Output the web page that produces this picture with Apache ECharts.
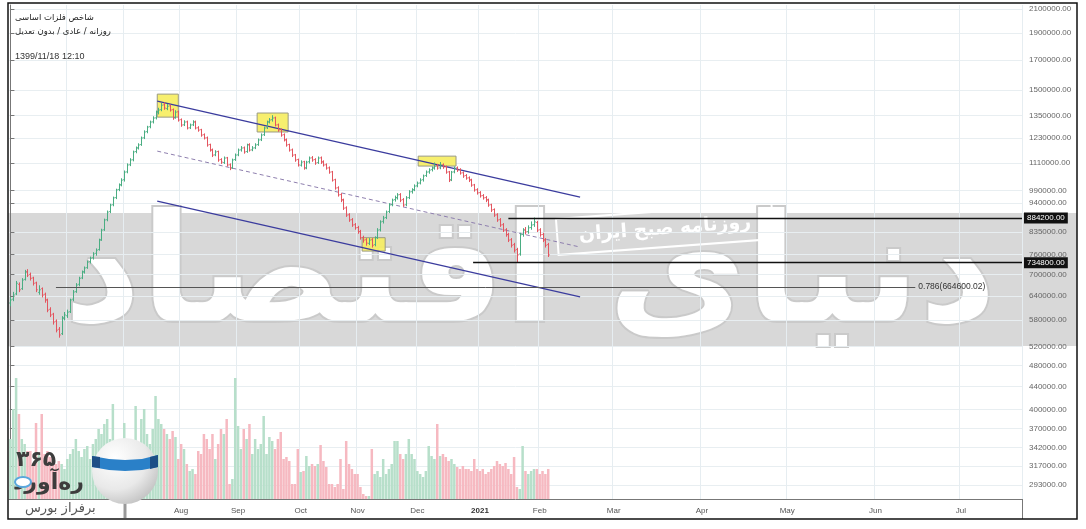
<!DOCTYPE html>
<html>
<head>
<meta charset="utf-8">
<script src="https://cdn.jsdelivr.net/npm/echarts@6/dist/echarts.min.js"></script>
<style>
html, body { margin: 0; padding: 0; background: #fff; }
#chart { width: 1086px; height: 529px; }
</style>
</head>
<body>
<div id="chart"></div>
<script>
// daily bars, prices in thousands: [open, close, low, high]
const bars = [
  [622,630,615,636],[632,643,628,650],[646,675,644,680],[672,657,652,676],[660,684,658,688],
  [686,707,684,712],[708,698,694,714],[700,689,684,704],[690,675,670,692],[676,657,652,678],
  [650,657,645,668],[660,643,638,662],[645,630,624,648],[630,604,600,632],[606,592,588,610],
  [594,575,570,596],[577,556,552,580],[558,545,540,562],[548,585,546,588],[584,592,580,598],
  [590,599,586,604],[600,630,598,632],[632,651,628,655],[652,670,650,674],[672,689,668,692],
  [690,707,688,710],[708,719,704,722],[720,737,718,740],[738,749,734,752],[750,762,746,766],
  [764,774,758,778],[776,807,774,810],[808,841,806,844],[842,877,840,880],[878,906,874,910],
  [908,933,904,936],[934,961,930,964],[962,993,958,996],[995,1013,990,1018],[1015,1034,1010,1040],
  [1036,1069,1030,1074],[1070,1101,1066,1106],[1102,1124,1098,1130],[1125,1162,1120,1166],[1164,1181,1158,1186],
  [1182,1196,1176,1202],[1198,1231,1194,1236],[1232,1262,1228,1268],[1264,1288,1258,1292],[1290,1315,1284,1320],
  [1316,1337,1310,1344],[1338,1370,1332,1376],[1372,1382,1360,1392],[1384,1410,1378,1420],[1412,1393,1386,1424],
  [1390,1404,1384,1414],[1406,1382,1376,1410],[1384,1337,1330,1388],[1340,1370,1336,1378],[1372,1326,1320,1376],
  [1328,1299,1292,1332],[1300,1315,1296,1322],[1316,1283,1278,1320],[1284,1299,1280,1304],[1300,1315,1296,1322],
  [1316,1283,1278,1320],[1284,1272,1266,1290],[1274,1246,1240,1276],[1248,1231,1226,1252],[1232,1196,1190,1236],
  [1198,1171,1166,1200],[1172,1147,1140,1176],[1148,1162,1144,1168],[1164,1124,1118,1166],[1126,1114,1108,1130],
  [1112,1133,1108,1138],[1134,1101,1096,1136],[1102,1087,1080,1106],[1088,1124,1086,1128],[1126,1147,1122,1152],
  [1148,1171,1144,1176],[1172,1181,1166,1188],[1182,1162,1156,1186],[1164,1196,1160,1200],[1198,1171,1166,1202],
  [1172,1181,1168,1188],[1182,1196,1178,1202],[1198,1221,1194,1226],[1222,1246,1218,1252],[1248,1283,1244,1288],
  [1284,1315,1280,1320],[1316,1326,1310,1334],[1328,1337,1320,1350],[1338,1299,1294,1342],[1300,1272,1266,1304],
  [1274,1246,1240,1278],[1248,1221,1216,1252],[1222,1196,1190,1226],[1198,1171,1166,1200],[1172,1147,1140,1176],
  [1148,1124,1118,1150],[1126,1101,1096,1128],[1100,1114,1096,1120],[1116,1087,1082,1118],[1088,1114,1084,1118],
  [1116,1133,1110,1138],[1134,1124,1118,1140],[1126,1110,1104,1130],[1112,1133,1108,1138],[1134,1114,1108,1138],
  [1116,1101,1096,1120],[1102,1087,1082,1106],[1088,1069,1064,1092],[1070,1034,1030,1072],[1036,1001,996,1038],
  [1002,973,968,1006],[974,952,946,978],[954,921,916,956],[922,895,890,926],[896,877,872,900],
  [878,859,854,882],[860,849,844,864],[850,835,830,854],[836,815,810,840],[816,807,800,820],
  [808,797,790,812],[796,807,792,812],[808,790,784,812],[792,815,788,818],[816,841,812,846],
  [842,870,838,874],[872,884,866,890],[886,906,882,910],[908,933,904,938],[934,952,930,956],
  [954,961,948,968],[962,973,956,978],[974,952,946,978],[954,933,928,958],[934,961,930,966],
  [962,985,958,990],[986,993,980,998],[994,1009,990,1014],[1010,1021,1006,1026],[1022,1034,1018,1040],
  [1036,1052,1030,1056],[1054,1069,1050,1074],[1070,1078,1064,1084],[1080,1087,1074,1092],[1088,1096,1082,1110],
  [1098,1087,1082,1104],[1088,1101,1084,1112],[1102,1092,1086,1106],[1094,1069,1064,1096],[1070,1034,1028,1072],
  [1036,1069,1032,1072],[1070,1087,1066,1092],[1088,1078,1072,1092],[1080,1065,1060,1084],[1066,1052,1046,1070],
  [1054,1043,1038,1058],[1044,1034,1028,1048],[1036,1013,1008,1038],[1014,993,988,1016],[994,981,976,998],
  [982,969,964,986],[970,961,956,974],[962,952,946,966],[954,933,928,956],[934,914,908,936],
  [916,895,890,918],[896,877,872,900],[878,859,854,882],[860,841,836,864],[842,825,820,846],
  [826,807,802,830],[808,790,784,812],[792,774,768,796],[776,759,737,780],[762,825,758,830],
  [826,841,820,846],[842,835,828,850],[836,849,830,856],[850,859,844,870],[860,870,854,884],
  [868,841,836,872],[842,825,820,846],[826,807,802,830],[808,790,784,812],[792,759,754,796]
];
const volume = [
  60,90,121,85,60,55,48,48,35,76, 45,85,45,48,42,40,35,38,35,30,
  40,45,50,60,48,42,50,53,40,55, 60,70,65,75,80,60,95,50,45,40,
  76,55,60,50,93,55,80,90,65,55, 70,103,80,75,70,65,60,68,62,40,
  55,50,35,28,30,25,48,45,65,60, 50,65,40,55,70,65,80,15,20,121,
  73,50,70,60,75,45,60,50,55,83, 45,62,58,50,60,67,40,42,38,15,
  15,50,27,28,43,33,35,33,35,54, 38,32,15,15,12,15,40,10,58,35,
  30,25,25,12,5,3,3,50,25,28, 22,40,25,30,35,58,58,45,40,45,
  60,45,40,28,25,22,28,53,43,40, 75,43,45,42,38,40,35,32,30,33,
  30,30,28,40,30,28,30,25,27,30, 33,38,35,33,36,30,25,42,12,10,
  53,28,25,28,30,30,25,28,25,30
];
const SLOTS = 356; // trading bars + empty future days on the time scale
const monthIdx = [20, 40, 60, 80, 102, 122, 143, 165, 186, 212, 243, 273, 304, 334];
const monthLbl = ['', '', 'Aug', 'Sep', 'Oct', 'Nov', 'Dec', '2021', 'Feb', 'Mar', 'Apr', 'May', 'Jun', 'Jul'];
const priceTicks = [2100000, 1900000, 1700000, 1500000, 1350000, 1230000, 1110000, 990000, 940000,
  835000, 760000, 700000, 640000, 580000, 520000, 480000, 440000, 400000, 370000, 342000, 317000, 293000];

// drawings: [barIndex, price]
const upperLine = [[51.6, 1434000], [200.2, 964000]];
const lowerLine = [[51.6, 948000], [200.2, 638000]];
const midLine = [[51.6, 1166000], [200.2, 784000]];
// highlight boxes: [fromIndex, toIndex, lowPrice, highPrice]
const boxes = [[51.6, 59.0, 1342000, 1476000], [86.7, 97.6, 1262000, 1365000],
  [143.3, 156.6, 1096000, 1142000], [123.6, 131.7, 771000, 815000]];
const resistance = { from: 175, price: 884200 };
const support = { from: 162.6, price: 734800 };
const fib = { from: 16, to: 318, price: 664600.02, text: '0.786(664600.02)' };

const lg = Math.log10;
const UP = '#4aad82', DOWN = '#e3555f', VOL_UP = '#b7dfca', VOL_DOWN = '#f6b9c1';
const tickSet = new Set(monthIdx);

const chart = echarts.init(document.getElementById('chart'));

function levelLine(lv) {
  return [{
    coord: [lv.from, lg(lv.price)],
    lineStyle: { color: '#111', width: 1.3, type: 'solid' },
    label: {
      show: true, position: 'end', distance: 2,
      formatter: lv.price.toFixed(2),
      color: '#fff', backgroundColor: '#111', padding: [2, 3, 1, 3], fontSize: 8, fontFamily: 'Liberation Sans'
    }
  }, { coord: [SLOTS - 0.5, lg(lv.price)] }];
}

const option = {
  animation: false,
  grid: { left: 9, right: 64, top: 5, bottom: 30 },
  xAxis: [{
    type: 'category',
    data: Array.from({ length: SLOTS }, (_, i) => i),
    boundaryGap: true,
    axisLine: { lineStyle: { color: '#777', width: 1 } },
    axisTick: { alignWithLabel: true, length: 3, interval: (i) => tickSet.has(i), lineStyle: { color: '#777' } },
    axisLabel: {
      interval: (i) => tickSet.has(i),
      formatter: (v, i) => {
        const t = monthLbl[monthIdx.indexOf(i)] || '';
        return t === '2021' ? '{b|2021}' : t;
      },
      color: '#555', fontSize: 8, fontFamily: 'Liberation Sans', margin: 8,
      rich: { b: { fontWeight: 'bold', fontSize: 8, color: '#333', fontFamily: 'Liberation Sans' } }
    },
    splitLine: { show: true, interval: (i) => tickSet.has(i), lineStyle: { color: '#e6edf1' } }
  }, {
    type: 'value', min: -0.5, max: SLOTS - 0.5, show: false
  }],
  yAxis: [{
    type: 'value',
    position: 'right',
    min: lg(276500),
    max: lg(2134000),
    axisLine: { show: true, lineStyle: { color: '#777' } },
    axisTick: { show: true, length: 4, customValues: priceTicks.map(lg), lineStyle: { color: '#777' } },
    axisLabel: {
      customValues: priceTicks.map(lg),
      formatter: (v) => Math.round(Math.pow(10, v)).toFixed(2),
      color: '#666', fontSize: 8, fontFamily: 'Liberation Sans', margin: 7
    },
    splitLine: { show: true, lineStyle: { color: '#e8eef1' } }
  }, {
    type: 'value', min: 0, max: 494, show: false
  }],
  series: [{
    type: 'bar',
    xAxisIndex: 0, yAxisIndex: 1,
    barWidth: '88%',
    silent: true,
    z: 1,
    data: volume.map((v, i) => ({ value: v, itemStyle: { color: bars[i][1] >= bars[i][0] ? VOL_UP : VOL_DOWN } }))
  }, {
    type: 'custom',
    xAxisIndex: 0, yAxisIndex: 0,
    silent: true,
    z: 4,
    data: bars.map((b, i) => [i, lg(b[0] * 1000), lg(b[1] * 1000), lg(b[2] * 1000), lg(b[3] * 1000)]),
    renderItem: (params, api) => {
      const i = api.value(0);
      const o = api.coord([i, api.value(1)]);
      const c = api.coord([i, api.value(2)]);
      const l = api.coord([i, api.value(3)]);
      const h = api.coord([i, api.value(4)]);
      const w = api.size([1, 0])[0] * 0.45;
      const x = Math.round(o[0]) + 0.5;
      const color = api.value(2) >= api.value(1) ? UP : DOWN;
      const st = { stroke: color, lineWidth: 1 };
      return {
        type: 'group',
        children: [
          { type: 'line', shape: { x1: x, y1: h[1] - 0.5, x2: x, y2: l[1] + 0.5 }, style: st },
          { type: 'line', shape: { x1: x - w, y1: o[1], x2: x, y2: o[1] }, style: st },
          { type: 'line', shape: { x1: x, y1: c[1], x2: x + w, y2: c[1] }, style: st }
        ]
      };
    }
  }, {
    type: 'line',
    xAxisIndex: 1, yAxisIndex: 0,
    silent: true, clip: false, z: 2,
    showSymbol: false, symbol: 'none',
    lineStyle: { color: '#3b3c9e', width: 1.3 },
    data: upperLine.map(p => [p[0], lg(p[1])]),
    markArea: {
      silent: true,
      itemStyle: { color: 'rgba(246,238,98,0.92)', borderColor: '#9a9a84', borderWidth: 1 },
      data: boxes.map(b => [{ coord: [b[0], lg(b[3])] }, { coord: [b[1], lg(b[2])] }])
    },
    markLine: {
      silent: true,
      symbol: 'none',
      data: [
        levelLine(resistance),
        levelLine(support),
        [{
          coord: [fib.from, lg(fib.price)],
          lineStyle: { color: '#555', width: 1, type: 'solid' },
          label: { show: true, position: 'end', distance: 3, formatter: fib.text, color: '#333', fontSize: 8.5, fontFamily: 'Liberation Sans' }
        }, { coord: [fib.to, lg(fib.price)] }]
      ]
    }
  }, {
    type: 'line',
    xAxisIndex: 1, yAxisIndex: 0,
    silent: true, clip: false, z: 2,
    showSymbol: false, symbol: 'none',
    lineStyle: { color: '#3b3c9e', width: 1.3 },
    data: lowerLine.map(p => [p[0], lg(p[1])])
  }, {
    type: 'line',
    xAxisIndex: 1, yAxisIndex: 0,
    silent: true, clip: false, z: 2,
    showSymbol: false, symbol: 'none',
    lineStyle: { color: '#8e7fae', width: 1, type: [4, 3] },
    data: midLine.map(p => [p[0], lg(p[1])])
  }],
  graphic: [
    // watermark band and lettering
    { type: 'rect', z: -20, silent: true, shape: { x: 8, y: 213, width: 1069, height: 133 }, style: { fill: '#d8d8d8' } },
    { type: 'text', z: -10, silent: true, x: 530, y: 282,
      style: { text: 'دنیای اقتصاد', font: 'bold 150px "DejaVu Sans"', fill: '#ffffff', stroke: '#cacaca', lineWidth: 4, align: 'center', verticalAlign: 'middle' } },
    { type: 'rect', z: -9, silent: true, x: 665, y: 229, rotation: 0.074,
      shape: { x: -108, y: -18, width: 216, height: 36 }, style: { fill: 'none', stroke: '#ffffff', lineWidth: 2 } },
    { type: 'text', z: -9, silent: true, x: 665, y: 229, rotation: 0.074,
      style: { text: 'روزنامه صبح ایران', font: 'bold 19px "DejaVu Sans"', fill: '#ffffff', align: 'center', verticalAlign: 'middle' } },
    // header
    { type: 'text', z: 50, silent: true, x: 15, y: 13, style: { text: 'شاخص فلزات اساسی', font: '8.5px "DejaVu Sans"', fill: '#222' } },
    { type: 'text', z: 50, silent: true, x: 15, y: 27, style: { text: 'روزانه / عادی / بدون تعدیل', font: '8.5px "DejaVu Sans"', fill: '#222' } },
    { type: 'text', z: 50, silent: true, x: 15, y: 52, style: { text: '1399/11/18 12:10', font: '9px "Liberation Sans"', fill: '#333' } },
    // logo
    { type: 'text', z: 50, silent: true, x: 16, y: 449, style: { text: '۳۶۵', font: 'bold 22px "DejaVu Sans"', fill: '#3d3d3d' } },
    { type: 'text', z: 50, silent: true, x: 13, y: 472, style: { text: 'ره‌آورد', font: 'bold 22px "DejaVu Sans"', fill: '#3d3d3d' } },
    { type: 'ellipse', z: 51, silent: true, shape: { cx: 23, cy: 482, rx: 8, ry: 5 }, style: { fill: '#ffffff', stroke: '#5aa7dc', lineWidth: 2 } },
    { type: 'rect', z: 49, silent: true, shape: { x: 20, y: 502, width: 88, height: 15 }, style: { fill: '#ffffff' } },
    { type: 'text', z: 50, silent: true, x: 25, y: 502, style: { text: 'برفراز بورس', font: '13px "DejaVu Sans"', fill: '#555' } },
    { type: 'line', z: 50, silent: true, shape: { x1: 125, y1: 500, x2: 125, y2: 518 }, style: { stroke: '#9a9a9a', lineWidth: 3 } },
    { type: 'circle', z: 50, silent: true, shape: { cx: 125, cy: 471, r: 33 },
      style: { fill: new echarts.graphic.RadialGradient(0.35, 0.3, 0.8, [{ offset: 0, color: '#ffffff' }, { offset: 0.6, color: '#e9e9e9' }, { offset: 1, color: '#bdbdbd' }]) } },
    { type: 'polygon', z: 51, silent: true,
      shape: { points: [[92, 456], [109, 459], [125, 460], [142, 459], [158, 455], [158, 467], [142, 470], [125, 471], [109, 470], [92, 467]] },
      style: { fill: '#2a80c8' } },
    { type: 'polygon', z: 52, silent: true, shape: { points: [[92, 456], [100, 457], [100, 468], [92, 467]] }, style: { fill: '#1d4f86' } },
    { type: 'polygon', z: 52, silent: true, shape: { points: [[150, 457], [158, 455], [158, 467], [150, 469]] }, style: { fill: '#1d4f86' } },
    // frame
    { type: 'line', z: 60, silent: true, shape: { x1: 1022.5, y1: 499, x2: 1022.5, y2: 519 }, style: { stroke: '#777', lineWidth: 1 } },
    { type: 'rect', z: 60, silent: true, shape: { x: 8, y: 3, width: 1069, height: 516 }, style: { fill: 'none', stroke: '#111', lineWidth: 1.5 } }
  ]
};

chart.setOption(option);
</script>
</body>
</html>
